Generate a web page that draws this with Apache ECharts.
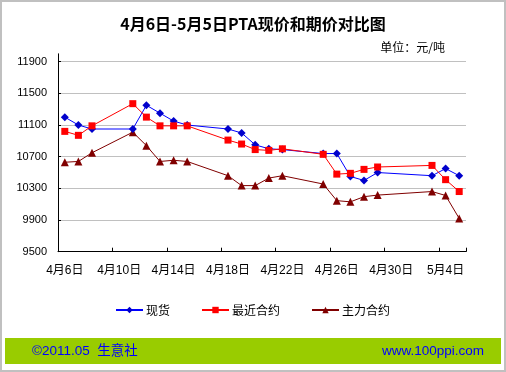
<!DOCTYPE html>
<html>
<head>
<meta charset="utf-8">
<script src="https://cdn.jsdelivr.net/npm/echarts@6/dist/echarts.min.js"></script>
<style>
html,body{margin:0;padding:0;background:#fff;}
#chart{width:506px;height:372px;}
</style>
</head>
<body>
<div id="chart"></div>
<script>
var categories = ['4月6日','4月7日','4月8日','4月9日','4月10日','4月11日','4月12日','4月13日','4月14日','4月15日',
  '4月16日','4月17日','4月18日','4月19日','4月20日','4月21日','4月22日','4月23日','4月24日','4月25日',
  '4月26日','4月27日','4月28日','4月29日','4月30日','5月1日','5月2日','5月3日','5月4日','5月5日'];
var spot = [11200,11100,11050,null,null,11050,11350,11250,11150,11100,
  null,null,11050,11000,10850,10800,10790,null,null,10740,
  10740,10450,10400,10500,null,null,null,10460,10550,10460];
var nearest = [11020,10970,11090,null,null,11370,11200,11090,11090,11090,
  null,null,10910,10860,10790,10780,10800,null,null,10730,
  10480,10490,10540,10570,null,null,null,10590,10410,10260];
var mainContract = [10630,10640,10750,null,null,11010,10840,10640,10655,10640,
  null,null,10460,10335,10335,10430,10460,null,null,10355,
  10145,10130,10195,10215,null,null,null,10260,10210,9920];
var yTicks = [9500,9900,10300,10700,11100,11500,11900];
var seriesNames = ['现货','最近合约','主力合约'];

var cjk = '"Liberation Sans","Noto Sans CJK SC",sans-serif';
var chart = echarts.init(document.getElementById('chart'));
chart.setOption({
  animation:false,
  backgroundColor:'#fff',
  title:[
    {text:'4月6日-5月5日PTA现价和期价对比图', left:248, top:11, textAlign:'center',
     textStyle:{fontSize:16, fontWeight:'bold', color:'#000', fontFamily:'"Noto Sans CJK SC",sans-serif'}},
    {text:'单位：元/吨', left:440, top:36, textAlign:'right',
     textStyle:{fontSize:12, fontWeight:'normal', color:'#000', fontFamily:'"Noto Sans CJK SC",sans-serif'}}
  ],
  legend:{
    left:110, top:299, itemWidth:27, itemHeight:8, itemGap:31,
    textStyle:{fontSize:12, color:'#000', fontFamily:'"Noto Sans CJK SC",sans-serif', padding:[0,0,0,-2]},
    data:seriesNames
  },
  grid:{left:58, right:40, top:53.8, bottom:120.3, containLabel:false},
  xAxis:{
    type:'category', data:categories, boundaryGap:true,
    axisLine:{lineStyle:{color:'#000', width:1}},
    axisTick:{show:true, inside:true, length:4, interval:3, alignWithLabel:false, lineStyle:{color:'#000'}},
    axisLabel:{interval:3, margin:13, fontSize:12, color:'#000', fontFamily:cjk},
    splitLine:{show:false}
  },
  yAxis:{
    type:'value', min:9500, max:12000, interval:100,
    axisLine:{show:true, lineStyle:{color:'#000', width:1}},
    axisTick:{show:true, inside:true, length:3, customValues:yTicks, lineStyle:{color:'#000'}},
    axisLabel:{customValues:yTicks, margin:11, fontSize:11, color:'#000', fontFamily:cjk,
      formatter:function(v){return String(v);}},
    splitLine:{show:true, lineStyle:{color:'#c0c0c0', width:1}}
  },
  series:[
    {name:seriesNames[0], type:'line', data:spot, connectNulls:true, symbol:'diamond', symbolSize:8,
     lineStyle:{color:'#0000ff', width:1}, itemStyle:{color:'#0000cc'}, z:3},
    {name:seriesNames[1], type:'line', data:nearest, connectNulls:true, symbol:'rect', symbolSize:7,
     lineStyle:{color:'#ff0000', width:1}, itemStyle:{color:'#ff0000'}, z:4},
    {name:seriesNames[2], type:'line', data:mainContract, connectNulls:true, symbol:'triangle', symbolSize:8,
     lineStyle:{color:'#800000', width:1}, itemStyle:{color:'#800000'}, z:2}
  ],
  graphic:[
    {type:'rect', shape:{x:1, y:1, width:504, height:370}, style:{fill:'none', stroke:'#c0c0c0', lineWidth:2}, silent:true},
    {type:'rect', shape:{x:5, y:338, width:496, height:26}, style:{fill:'#99cc00'}, silent:true},
    {type:'text', x:32, y:351, style:{text:'©2011.05  生意社', fill:'#0000ff', fontSize:13.5, fontFamily:cjk, verticalAlign:'middle'}, silent:true},
    {type:'text', x:484, y:351, style:{text:'www.100ppi.com', fill:'#0000ff', fontSize:13.5, fontFamily:cjk, align:'right', verticalAlign:'middle'}, silent:true}
  ]
});
</script>
</body>
</html>
